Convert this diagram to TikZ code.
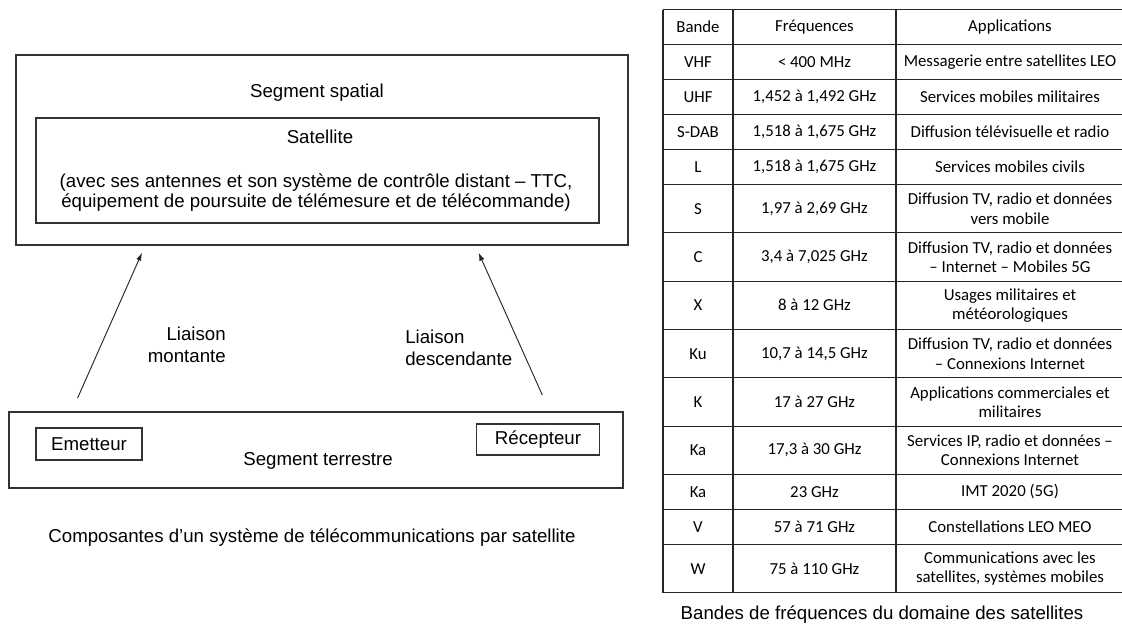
\documentclass[tikz,border=0pt]{standalone}
\usepackage{fontspec}
\setmainfont{Liberation Sans}
\newfontfamily\calfont{Carlito}
\usetikzlibrary{arrows.meta,fit}
\begin{document}
\begin{tikzpicture}[x=0.75pt,y=-0.75pt,
  box/.style={draw=black!80, line width=1pt, inner sep=0pt},
  txt/.style={font=\fontsize{14}{16}\selectfont, text=black, inner sep=0pt},
  smallbox/.style={draw=black!80, line width=1pt, inner sep=0pt, font=\fontsize{14}{16}\selectfont, text=black},
  arr/.style={draw=black!85, line width=0.7pt, -{Latex[length=6pt,width=4pt]}},
  tline/.style={draw=black!85, line width=0.9pt},
  cell/.style={font=\calfont\fontsize{12.6}{14.3}\selectfont, align=center, inner sep=0pt, text=black}]
\useasboundingbox (0,0) rectangle (1122,628);
\fill[white] (0,0) rectangle (1122,628);
\clip (0,0) rectangle (1122,628);

% ---- space segment
\node[box, fit={(16,55) (628,245)}] (space) {};
\node[txt] (spacelbl) at (317,93) {Segment spatial};
\node[box, fit={(36,118) (599,223)}] (sat) {};
\node[txt] (satlbl) at (320,137) {Satellite};
\node[txt, align=center, font=\fontsize{14}{15}\selectfont] (satdesc) at (316,193)
  {(avec ses antennes et son système de contrôle distant – TTC,\\équipement de poursuite de télémesure et de télécommande)};

% ---- ground segment
\node[box, fit={(9,412) (623,488)}] (ground) {};
\node[smallbox, minimum width=79.5pt, minimum height=24pt] (emet) at (89,444) {Emetteur};
\node[smallbox, minimum width=92.2pt, minimum height=23.3pt] (recep) at (538,439.5) {Récepteur};
\node[txt] (groundlbl) at (318,461) {Segment terrestre};

% ---- links
\coordinate (up0) at (77.6,398);
\coordinate (up1) at (142,252.7);
\coordinate (dn0) at (542.3,395);
\coordinate (dn1) at (478.6,252.7);
\draw[arr] (up0) -- (up1);
\draw[arr] (dn0) -- (dn1);
\node[txt, anchor=east, align=right, font=\fontsize{14}{16.5}\selectfont] (uplbl) at (226,345) {Liaison\\montante};
\node[txt, anchor=west, align=left, font=\fontsize{14}{16.5}\selectfont] (dnlbl) at (405,347.5) {Liaison\\descendante};

\node[txt] (cap1) at (312,538) {Composantes d’un système de télécommunications par satellite};

% ---- table grid
\foreach \y in {9.5,44.5,79.5,114.5,149.5,184.5,232.8,281.2,329.5,377.8,426.2,474.5,509.5,544.5,592.8}
  \draw[tline] (663,\y) -- (1124,\y);
\foreach \x in {663,733,896,1124}
  \draw[tline] (\x,9.5) -- (\x,592.8);

% ---- table cells
\foreach \yc/\b/\f/\a [count=\i] in {
  27/Bande/Fréquences/Applications,
  62/VHF/{< 400 MHz}/{Messagerie entre satellites LEO},
  97/UHF/{1,452 à 1,492 GHz}/{Services mobiles militaires},
  132/S-DAB/{1,518 à 1,675 GHz}/{Diffusion télévisuelle et radio},
  167/L/{1,518 à 1,675 GHz}/{Services mobiles civils},
  208.7/S/{1,97 à 2,69 GHz}/{Diffusion TV, radio et données\\vers mobile},
  257/C/{3,4 à 7,025 GHz}/{Diffusion TV, radio et données\\– Internet – Mobiles 5G},
  305.3/X/{8 à 12 GHz}/{Usages militaires et\\météorologiques},
  353.7/Ku/{10,7 à 14,5 GHz}/{Diffusion TV, radio et données\\– Connexions Internet},
  402/K/{17 à 27 GHz}/{Applications commerciales et\\militaires},
  450.3/Ka/{17,3 à 30 GHz}/{Services IP, radio et données –\\Connexions Internet},
  492/Ka/{23 GHz}/{IMT 2020 (5G)},
  527/V/{57 à 71 GHz}/{Constellations LEO MEO},
  568.7/W/{75 à 110 GHz}/{Communications avec les\\satellites, systèmes mobiles}} {
  \node[cell] (band\i) at (698,\yc) {\b};
  \node[cell] (freq\i) at (814.5,\yc) {\f};
  \node[cell] (app\i) at (1010,\yc) {\a};
}

\node[txt] (cap2) at (882,615) {Bandes de fréquences du domaine des satellites};
\end{tikzpicture}
\end{document}
